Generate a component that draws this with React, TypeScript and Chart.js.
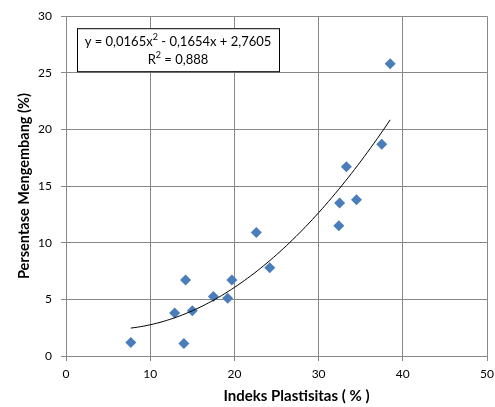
import React, { useEffect, useRef } from "react";
import { Chart, registerables } from "chart.js";

Chart.register(...registerables);

const xValues = [7.7, 12.9, 14.0, 14.2, 15.0, 17.5, 19.2, 19.7, 22.6, 24.2, 32.4, 32.5, 33.3, 34.5, 37.5, 38.5];
const yValues = [1.2, 3.8, 1.1, 6.7, 4.0, 5.25, 5.1, 6.7, 10.9, 7.8, 11.5, 13.5, 16.7, 13.8, 18.7, 25.8];
const trendCoefficients = [0.0165, -0.1654, 2.7605];
const equationParts = ["y = 0,0165x", "2", " - 0,1654x + 2,7605"];
const rSquaredParts = ["R", "2", " = 0,888"];
const xTitle = "Indeks Plastisitas ( % )";
const yTitle = "Persentase Mengembang (%)";

const FONT = "Lato, 'Open Sans', sans-serif";

function trendPoints() {
  const minX = Math.min(...xValues);
  const maxX = Math.max(...xValues);
  const pts: { x: number; y: number }[] = [];
  const n = 80;
  for (let i = 0; i <= n; i++) {
    const x = minX + ((maxX - minX) * i) / n;
    const [a, b, c] = trendCoefficients;
    pts.push({ x, y: a * x * x + b * x + c });
  }
  return pts;
}

const equationBox = {
  id: "equationBox",
  afterDatasetsDraw(chart: any) {
    const { ctx, chartArea } = chart;
    const bx = chartArea.left + 11;
    const by = chartArea.top + 12;
    const bw = 202;
    const bh = 43;
    ctx.save();
    ctx.fillStyle = "#ffffff";
    ctx.fillRect(bx, by, bw, bh);
    ctx.strokeStyle = "#000000";
    ctx.lineWidth = 1;
    ctx.strokeRect(bx + 0.5, by + 0.5, bw, bh);
    const drawLine = (parts: string[], cy: number) => {
      const main = `13px ${FONT}`;
      const sup = `9px ${FONT}`;
      ctx.font = main;
      const w0 = ctx.measureText(parts[0]).width;
      const w2 = ctx.measureText(parts[2]).width;
      ctx.font = sup;
      const w1 = ctx.measureText(parts[1]).width;
      const total = w0 + w1 + w2;
      let x = bx + bw / 2 - total / 2;
      ctx.fillStyle = "#000000";
      ctx.textBaseline = "middle";
      ctx.textAlign = "left";
      ctx.font = main;
      ctx.fillText(parts[0], x, cy);
      x += w0;
      ctx.font = sup;
      ctx.fillText(parts[1], x, cy - 5);
      x += w1;
      ctx.font = main;
      ctx.fillText(parts[2], x, cy);
    };
    drawLine(equationParts, by + 14);
    drawLine(rSquaredParts, by + 32);
    ctx.restore();
  },
  afterDraw(chart: any) {
    const { ctx, chartArea } = chart;
    ctx.save();
    ctx.font = `bold 15px ${FONT}`;
    ctx.fillStyle = "#000000";
    ctx.textAlign = "center";
    ctx.textBaseline = "middle";
    ctx.fillText(xTitle, (chartArea.left + chartArea.right) / 2 + 20, chartArea.bottom + 40.5);
    ctx.restore();
  },
};

export default function App() {
  const ref = useRef<HTMLCanvasElement | null>(null);
  useEffect(() => {
    document.body.style.margin = "0";
    if (!ref.current) return;
    const chart = new Chart(ref.current, {
      type: "scatter",
      data: {
        datasets: [
          {
            label: "data",
            data: xValues.map((x, i) => ({ x, y: yValues[i] })),
            pointStyle: "rectRot",
            pointRadius: 5.5,
            backgroundColor: "#4a7ebb",
            borderColor: "#4a7ebb",
            borderWidth: 0,
            order: 2,
          },
          {
            type: "line",
            label: "trend",
            data: trendPoints(),
            borderColor: "#000000",
            borderWidth: 1,
            pointRadius: 0,
            fill: false,
            tension: 0,
            order: 1,
          } as any,
        ],
      },
      options: {
        animation: false,
        responsive: false,
        maintainAspectRatio: false,
        layout: { padding: { left: 0, right: 8, top: 13, bottom: 0 } },
        plugins: { legend: { display: false }, tooltip: { enabled: false } },
        scales: {
          x: {
            type: "linear",
            min: 0,
            max: 50,
            ticks: {
              stepSize: 10,
              color: "#000",
              font: { family: FONT, size: 12, lineHeight: 1.95 },
              padding: 1,
            },
            grid: { color: "#888888", tickLength: 5, drawTicks: true },
            border: { color: "#888888" },
            title: { display: false },
            afterFit: (s: any) => {
              s.height = 51;
            },
          },
          y: {
            type: "linear",
            min: 0,
            max: 30,
            ticks: { stepSize: 5, color: "#000", font: { family: FONT, size: 12 }, padding: 9 },
            grid: { color: "#888888", tickLength: 5 },
            border: { color: "#888888" },
            title: {
              display: true,
              text: yTitle,
              color: "#000",
              font: { family: FONT, size: 14.5, weight: "bold" },
              padding: { top: 16, bottom: 0 },
            },
            afterFit: (s: any) => {
              s.width = 66;
            },
          },
        },
      },
      plugins: [equationBox],
    });
    return () => chart.destroy();
  }, []);
  return (
    <div style={{ width: 495, height: 407 }}>
      <canvas ref={ref} width={495} height={407} />
    </div>
  );
}
